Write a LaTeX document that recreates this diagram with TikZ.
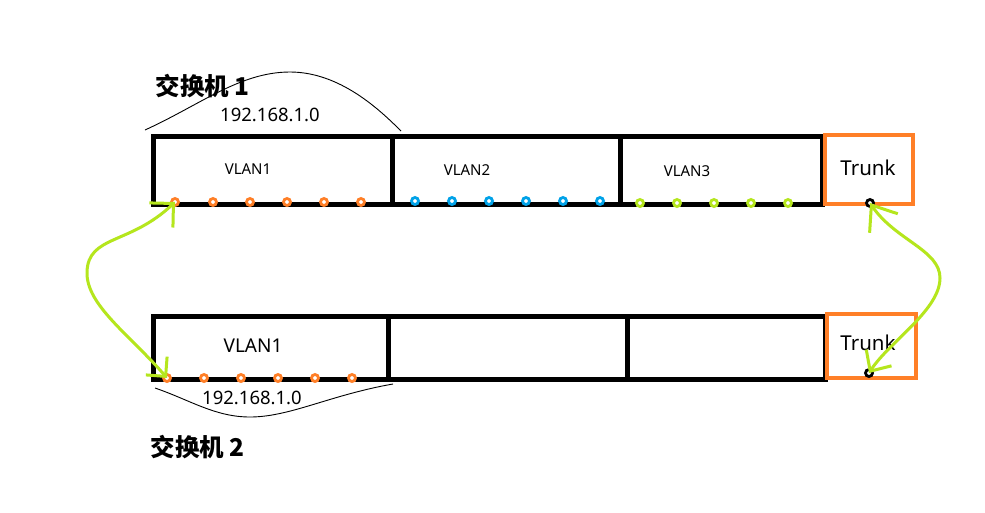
\documentclass[tikz,border=0pt]{standalone}
\usepackage{fontspec}
\setmainfont{Noto Sans}
\newfontfamily\cjk{Noto Sans CJK SC}
\usetikzlibrary{arrows.meta}
\definecolor{pOrange}{HTML}{FF7F27}
\definecolor{pBlue}{HTML}{00A2E8}
\definecolor{pGreen}{HTML}{B5E61D}
\begin{document}
\begin{tikzpicture}[x=1pt,y=-1pt,
  cell/.style={draw=black, line width=5pt, inner sep=0pt, outer sep=0pt, anchor=north west},
  trunkbox/.style={draw=pOrange, line width=4.5pt, inner sep=0pt, outer sep=0pt, anchor=north west},
  port/.style={circle, draw=#1, fill=white, line width=2.8pt, minimum size=7pt, inner sep=0pt},
  vlan/.style={font=\fontsize{15}{18}\selectfont},
  trunktxt/.style={font=\fontsize{20.5}{24}\selectfont},
  ip/.style={font=\fontsize{18.5}{22}\selectfont},
  title/.style={font=\cjk\bfseries\fontsize{24.5}{28}\selectfont, anchor=west},
  brace/.style={draw=black, line width=0.9pt},
  link/.style={draw=pGreen, line width=3pt}
]
\useasboundingbox (0,0) rectangle (985,512);
\fill[white] (0,0) rectangle (985,512);

% switch 1
\node[cell, minimum width=239pt, minimum height=68pt] (c11) at (153,136) {};
\node[cell, minimum width=228pt, minimum height=68pt] (c12) at (392,136) {};
\node[cell, minimum width=202pt, minimum height=68pt] (c13) at (620,136) {};
\node[trunkbox, minimum width=88pt, minimum height=69pt] (t1) at (825,135) {};

% switch 2
\node[cell, minimum width=235pt, minimum height=63pt] (c21) at (153,316) {};
\node[cell, minimum width=239pt, minimum height=63pt] (c22) at (388,316) {};
\node[cell, minimum width=198pt, minimum height=63pt] (c23) at (627,316) {};
\node[trunkbox, minimum width=89pt, minimum height=64pt] (t2) at (827,314) {};

% labels
\node[vlan] (l11) at (248,169) {VLAN1};
\node[vlan] (l12) at (467,170) {VLAN2};
\node[vlan] (l13) at (687,171) {VLAN3};
\node[trunktxt] (lt1) at (868,168) {Trunk};
\node[vlan, font=\fontsize{19}{22}\selectfont] (l21) at (253,346) {VLAN1};
\node[trunktxt] (lt2) at (868,343) {Trunk};
\node[ip] (ip1) at (270,115) {192.168.1.0};
\node[ip] (ip2) at (252,398) {192.168.1.0};
\node[title] (sw1) at (152,86) {交换机 1};
\node[title] (sw2) at (147,447) {交换机 2};

% braces
\path[brace] (145,130) .. controls (200,105) and (240,72) .. (290,72)
  .. controls (340,72) and (380,110) .. (401,131);
\path[brace] (155,388) .. controls (190,400) and (215,417) .. (250,417)
  .. controls (290,417) and (330,395) .. (393,384);

% ports switch 1
\foreach \x [count=\i] in {175,213,250,287,324,361}
  \node[port=pOrange] (a\i) at (\x,202) {};
\foreach \x [count=\i] in {415,452,489,526,563,600}
  \node[port=pBlue] (b\i) at (\x,201) {};
\foreach \x [count=\i] in {640,677,714,751,788}
  \node[port=pGreen] (g\i) at (\x,203) {};
\node[port=black] (p1) at (870,203) {};

% ports switch 2
\foreach \x [count=\i] in {167,204,241,278,315,352}
  \node[port=pOrange] (d\i) at (\x,378) {};
\node[port=black] (p2) at (869,373) {};

% links
\path[link, {Straight Barb[length=17pt,width=34pt]}-{Straight Barb[length=14pt,width=28pt]}]
  (a1.center) .. controls (130,245) and (88,235) .. (87,272)
  .. controls (86,305) and (130,335) .. (d1.center);
\path[link, {Straight Barb[length=22pt,width=34pt]}-{Straight Barb[length=16pt,width=30pt]}]
  (p1.center) .. controls (895,240) and (940,250) .. (940,278)
  .. controls (940,310) and (889,342) .. (p2.center);
\end{tikzpicture}
\end{document}
